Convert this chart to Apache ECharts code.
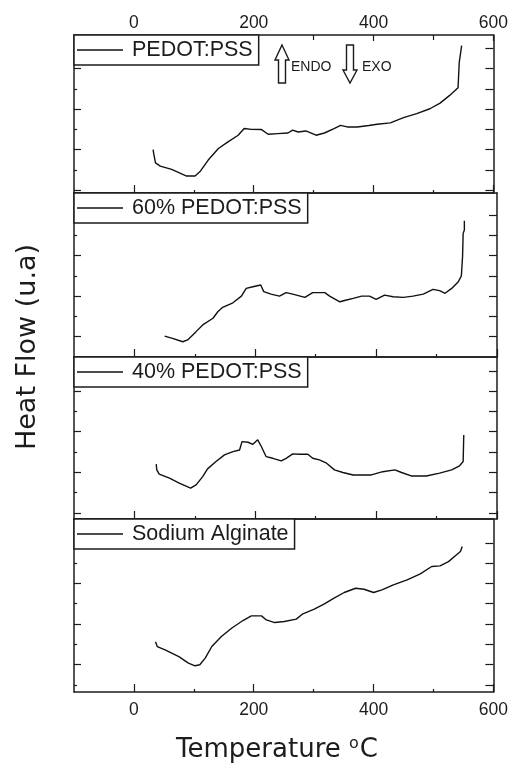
<!DOCTYPE html>
<html>
<head>
<meta charset="utf-8">
<script src="https://cdn.jsdelivr.net/npm/echarts@6/dist/echarts.min.js"></script>
<style>
  html, body { margin: 0; padding: 0; background: #fff; }
  #chart { width: 511px; height: 763px; }
</style>
</head>
<body>
<div id="chart"></div>
<script>
// DSC traces, heat flow in arbitrary units (one unit per y tick step)
const seriesNames = ['PEDOT:PSS', '60% PEDOT:PSS', '40% PEDOT:PSS', 'Sodium Alginate'];

const tempPedot = [32, 33, 36, 44, 63, 88, 102, 110, 124, 141, 157, 174, 184, 196, 213, 224, 240, 257, 265, 274,
  287, 304, 318, 334, 345, 356, 373, 392, 406, 428, 450, 472, 494, 511, 527, 541, 543, 545, 547];
const flowPedot = [2.00, 1.81, 1.34, 1.18, 1.02, 0.69, 0.69, 0.90, 1.48, 2.05, 2.38, 2.71, 3.04, 3.00, 2.99, 2.76, 2.79, 2.82, 2.96, 2.87,
  2.92, 2.71, 2.82, 3.04, 3.20, 3.12, 3.12, 3.19, 3.25, 3.32, 3.58, 3.78, 4.02, 4.30, 4.68, 5.06, 6.32, 6.40, 7.14];

const temp60 = [50, 63, 80, 88, 102, 113, 130, 138, 146, 163, 177, 185, 196, 209, 214, 226, 240, 251, 262, 282,
  295, 315, 323, 340, 351, 362, 376, 389, 400, 414, 428, 445, 461, 478, 494, 505, 514, 525, 536, 541, 543, 544, 546, 546];
const flow60 = [1.03, 0.92, 0.75, 0.84, 1.25, 1.58, 1.91, 2.23, 2.45, 2.67, 3.00, 3.38, 3.46, 3.55, 3.22, 3.10, 3.00, 3.17, 3.10, 2.94,
  3.17, 3.17, 3.00, 2.72, 2.81, 2.89, 3.00, 3.00, 2.84, 3.05, 2.97, 2.94, 3.00, 3.10, 3.33, 3.27, 3.14, 3.38, 3.71, 3.99, 4.94, 6.09, 6.26, 6.71];

const temp40 = [36, 37, 41, 58, 75, 93, 102, 113, 121, 135, 149, 163, 174, 178, 188, 196, 204, 210, 218, 229,
  243, 251, 262, 273, 287, 295, 306, 318, 331, 345, 362, 392, 411, 431, 442, 458, 483, 505, 525, 538, 544, 545];
const flow40 = [2.40, 2.12, 1.91, 1.71, 1.46, 1.22, 1.38, 1.79, 2.17, 2.53, 2.86, 3.02, 3.10, 3.51, 3.48, 3.38, 3.60, 3.27, 2.77, 2.69,
  2.56, 2.69, 2.91, 2.89, 2.89, 2.69, 2.61, 2.45, 2.12, 1.99, 1.87, 1.87, 2.03, 2.12, 1.99, 1.82, 1.82, 1.96, 2.12, 2.32, 2.53, 3.84];

const tempAlginate = [36, 39, 52, 75, 91, 102, 110, 119, 130, 146, 163, 182, 196, 213, 221, 235, 251, 271, 282, 301,
  318, 334, 351, 370, 384, 400, 414, 433, 456, 478, 497, 511, 525, 538, 545, 548];
const flowAlginate = [2.13, 1.89, 1.72, 1.39, 1.07, 0.94, 0.99, 1.32, 1.89, 2.38, 2.79, 3.17, 3.40, 3.40, 3.20, 3.07, 3.12, 3.24, 3.50, 3.73,
  3.99, 4.27, 4.55, 4.76, 4.71, 4.55, 4.68, 4.93, 5.17, 5.47, 5.83, 5.86, 6.07, 6.40, 6.57, 6.81];

// Axis ticks
const xTickLabels = [0, 200, 400, 600];
const xMinorTicks = [100, 300, 500];
const yMajorEven = [0, 2, 4, 6];
const yMinorOdd = [1, 3, 5, 7];
const yMajorOdd = [1, 3, 5, 7];
const yMinorEven = [0, 2, 4, 6];

const temps = [tempPedot, temp60, temp40, tempAlginate];
const flows = [flowPedot, flow60, flow40, flowAlginate];

// Panel layout (pixels) and value ranges
const INK = '#1c1c1c';
const SANS = 'Liberation Sans, Arial, sans-serif';
const panels = [
  { top: 35,  height: 158, yMin: -0.15, yMax: 7.67, major: yMajorEven, minor: yMinorOdd },
  { top: 193, height: 164, yMin: 0,     yMax: 8.08, major: yMajorOdd,  minor: yMinorEven },
  { top: 357, height: 162, yMin: -0.3,  yMax: 7.68, major: yMajorEven, minor: yMinorOdd },
  { top: 519, height: 173, yMin: -0.35, yMax: 8.17, major: yMajorOdd,  minor: yMinorEven }
];

const axisLineStyle = { color: INK, width: 1.5 };
const grid = [], xAxis = [], yAxis = [], series = [], legend = [];

panels.forEach((p, i) => {
  grid.push({ left: 74, right: 14, top: p.top, height: p.height });

  const xBase = { type: 'value', gridIndex: i, min: -100, max: 600, splitLine: { show: false } };
  const isLast = i === panels.length - 1;
  const isFirst = i === 0;

  // bottom: major ticks (+ labels on the last panel)
  const xMain = xAxis.length;
  xAxis.push(Object.assign({}, xBase, {
    position: 'bottom',
    axisLine: { show: true, onZero: false, lineStyle: axisLineStyle },
    axisTick: { show: true, inside: true, length: 8, customValues: xTickLabels, lineStyle: { color: INK, width: 1.2 } },
    axisLabel: { show: isLast, customValues: xTickLabels, fontSize: 17.5, fontFamily: SANS, color: INK, margin: 9 }
  }));
  // bottom: minor ticks
  xAxis.push(Object.assign({}, xBase, {
    position: 'bottom',
    axisLine: { show: false, onZero: false },
    axisTick: { show: true, inside: true, length: 3, customValues: xMinorTicks, lineStyle: { color: INK, width: 1.2 } },
    axisLabel: { show: false }
  }));
  // top edge
  xAxis.push(Object.assign({}, xBase, {
    position: 'top',
    axisLine: { show: true, onZero: false, lineStyle: axisLineStyle },
    axisTick: { show: isFirst, inside: true, length: 6, customValues: xTickLabels, lineStyle: { color: INK, width: 1.2 } },
    axisLabel: { show: isFirst, customValues: xTickLabels, fontSize: 17.5, fontFamily: SANS, color: INK, margin: 3 }
  }));
  if (isFirst) {
    xAxis.push(Object.assign({}, xBase, {
      position: 'top',
      axisLine: { show: false, onZero: false },
      axisTick: { show: true, inside: true, length: 5, customValues: xMinorTicks, lineStyle: { color: INK, width: 1.2 } },
      axisLabel: { show: false }
    }));
  }

  const yBase = { type: 'value', gridIndex: i, min: p.yMin, max: p.yMax, splitLine: { show: false }, axisLabel: { show: false } };
  const inRange = v => v > p.yMin && v < p.yMax - 0.2;
  const yMain = yAxis.length;
  yAxis.push(Object.assign({}, yBase, {
    position: 'left',
    axisLine: { show: true, onZero: false, lineStyle: axisLineStyle },
    axisTick: { show: true, inside: true, length: 7, customValues: p.major.filter(inRange), lineStyle: { color: INK, width: 1.2 } }
  }));
  yAxis.push(Object.assign({}, yBase, {
    position: 'left',
    axisLine: { show: false, onZero: false },
    axisTick: { show: true, inside: true, length: 3, customValues: p.minor.filter(inRange), lineStyle: { color: INK, width: 1.2 } }
  }));
  yAxis.push(Object.assign({}, yBase, {
    position: 'right',
    axisLine: { show: true, onZero: false, lineStyle: axisLineStyle },
    axisTick: { show: true, inside: true, length: 8, customValues: p.major.concat(p.minor).filter(inRange), lineStyle: { color: INK, width: 1.2 } }
  }));

  series.push({
    name: seriesNames[i],
    type: 'line',
    xAxisIndex: xMain,
    yAxisIndex: yMain,
    symbol: 'none',
    smooth: false,
    silent: true,
    lineStyle: { color: '#111', width: 1.4 },
    itemStyle: { color: '#111' },
    data: temps[i].map((t, k) => [t, flows[i][k]])
  });

  legend.push({
    data: [seriesNames[i]],
    left: 74,
    top: p.top,
    selectedMode: false,
    backgroundColor: '#fff',
    borderColor: INK,
    borderWidth: 1.5,
    borderRadius: 0,
    padding: [4, 6, 4, 3],
    icon: 'rect',
    itemWidth: 46,
    itemHeight: 1.4,
    itemStyle: { color: '#111', borderWidth: 0 },
    textStyle: { fontSize: 21.5, lineHeight: 22, fontFamily: SANS, color: INK, padding: [0, 0, 0, 4] }
  });
});

const chart = echarts.init(document.getElementById('chart'), null, { renderer: 'canvas' });
chart.setOption({
  backgroundColor: '#fff',
  animation: false,
  grid, xAxis, yAxis, series, legend,
  graphic: [
    // endothermic arrow (up)
    { type: 'polygon', z: 100, shape: { points: [[282, 45], [289, 60], [285.5, 60], [285.5, 83], [278.5, 83], [278.5, 60], [275, 60]] },
      style: { fill: '#fff', stroke: INK, lineWidth: 1.4 } },
    { type: 'text', z: 100, x: 291, y: 67, style: { text: 'ENDO', font: '14px ' + SANS, fill: INK, textVerticalAlign: 'middle' } },
    // exothermic arrow (down)
    { type: 'polygon', z: 100, shape: { points: [[346.5, 45], [353.5, 45], [353.5, 70], [357, 70], [350, 83], [343, 70], [346.5, 70]] },
      style: { fill: '#fff', stroke: INK, lineWidth: 1.4 } },
    { type: 'text', z: 100, x: 362, y: 67, style: { text: 'EXO', font: '14px ' + SANS, fill: INK, textVerticalAlign: 'middle' } },
    // axis titles
    { type: 'text', z: 100, x: 28, y: 347, rotation: Math.PI / 2,
      style: { text: 'Heat Flow (u.a)', font: '27px DejaVu Sans', fill: INK, textAlign: 'center', textVerticalAlign: 'middle' } },
    { type: 'text', z: 100, x: 277, y: 750,
      style: {
        text: '{a|Temperature }{b|o}{a|C}',
        textAlign: 'center', textVerticalAlign: 'middle',
        rich: {
          a: { font: '26px DejaVu Sans', fill: INK, color: INK },
          b: { font: '16px DejaVu Sans', fill: INK, color: INK, padding: [0, 1, 12, 0] }
        }
      } }
  ]
});
</script>
</body>
</html>
